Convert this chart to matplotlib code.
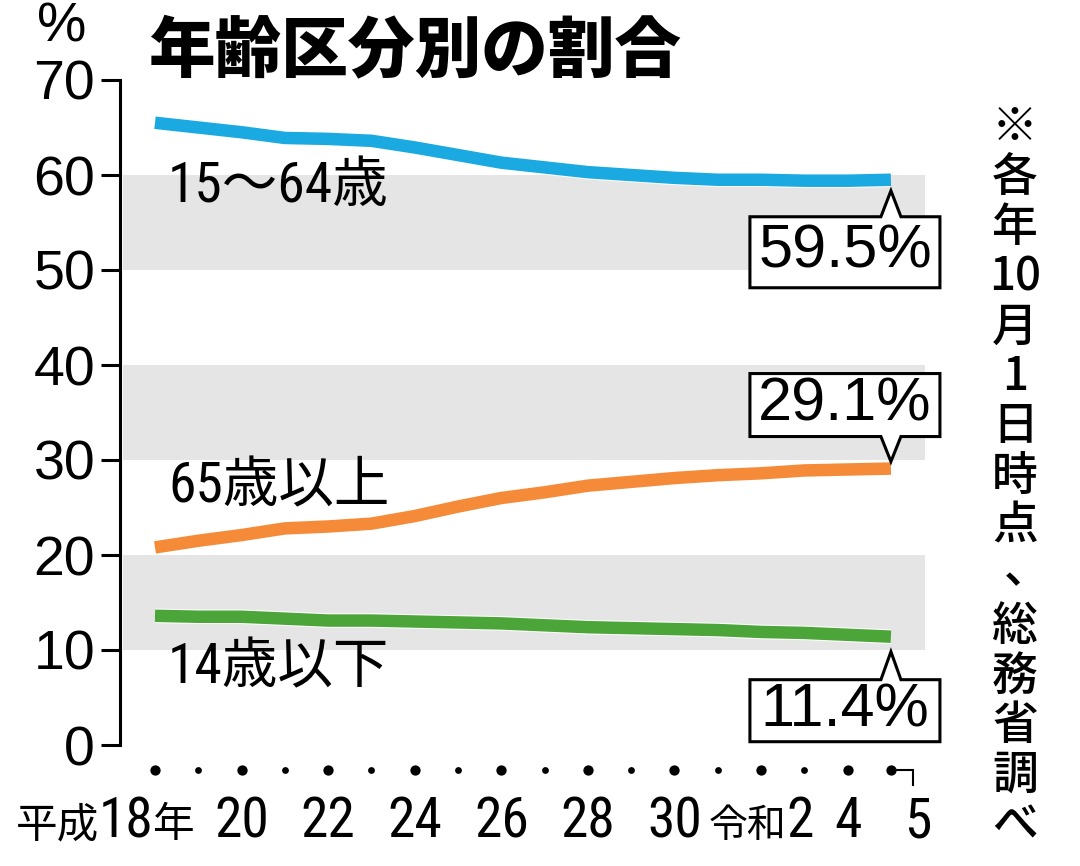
import os
import re
import matplotlib
matplotlib.use('Agg')
import matplotlib.pyplot as plt
import matplotlib.transforms as mtransforms
import matplotlib.patheffects as pe
from matplotlib.patches import Polygon
from matplotlib import font_manager

# ---------------- data ----------------
year_index = list(range(18))  # 平成18年(2006) .. 令和5年(2023)
tick_label_index = [0, 2, 4, 6, 8, 10, 12, 14, 16, 17]
tick_labels = ['平成18年', '20', '22', '24', '26', '28', '30', '令和2', '4', '5']
working_age = [65.5, 65.0, 64.5, 63.9, 63.8, 63.6, 62.9, 62.1, 61.3, 60.8,
               60.3, 60.0, 59.7, 59.5, 59.5, 59.4, 59.4, 59.5]
elderly = [20.8, 21.5, 22.1, 22.8, 23.0, 23.3, 24.1, 25.1, 26.0, 26.6,
           27.3, 27.7, 28.1, 28.4, 28.6, 28.9, 29.0, 29.1]
children = [13.6, 13.5, 13.5, 13.3, 13.1, 13.1, 13.0, 12.9, 12.8, 12.6,
            12.4, 12.3, 12.2, 12.1, 11.9, 11.8, 11.6, 11.4]
series_names = ['15～64歳', '65歳以上', '14歳以下']
y_ticks = [0, 10, 20, 30, 40, 50, 60, 70]
title = '年齢区分別の割合'
note = ['※', '各', '年', '10', '月', '1', '日', '時', '点', '、', '総', '務', '省', '調', 'べ']

# ---------------- fonts ----------------
SANS = 'Liberation Sans'
JP = 'Noto Sans CJK JP'


def find_condensed():
    bad = ('bold', 'italic', 'oblique', 'light', 'thin', 'black', 'medium', 'semibold',
           'extrabold', 'heavy', 'semi', 'extra', 'ultra')
    cands = []
    for f in font_manager.fontManager.ttflist:
        b = os.path.basename(f.fname).lower()
        if not any(w in b for w in ('narrow', 'condensed', 'cond')):
            continue
        stem = b.replace('condensed', '').replace('narrow', '').replace('cond', '')
        if any(w in stem for w in bad):
            continue
        if 'extracondensed' in b or 'semicondensed' in b or 'ultracondensed' in b:
            continue
        if 'mono' in b or 'serif' in b:
            continue
        if 'liberation' in b:
            rank = 0
        elif 'roboto' in b:
            rank = 1
        elif 'notosans' in b:
            rank = 2
        elif 'opensans' in b:
            rank = 3
        elif 'dejavu' in b:
            rank = 4
        else:
            rank = 5
        cands.append((rank, len(b), f.fname))
    if not cands:
        return None
    cands.sort()
    return cands[0][2]


cond_file = find_condensed()
if cond_file is not None:
    font_manager.fontManager.ttflist.append(font_manager.FontEntry(
        fname=cond_file, name='CondDigits', style='normal', variant='normal',
        weight=400, stretch='normal', size='scalable'))
    COND = 'CondDigits'
else:
    COND = SANS

plt.rcParams['font.family'] = [SANS, JP, 'DejaVu Sans']

W, H = 1080, 866
fig = plt.figure(figsize=(W / 100, H / 100), dpi=100)
fig.patch.set_facecolor('white')
ident = mtransforms.IdentityTransform()

X0, DX = 155.0, 43.29         # pixel of first point, spacing
AX_L, AX_R, AX_T, AX_B = 120, 930, 80, 745
ax = fig.add_axes([AX_L / W, (H - AX_B) / H, (AX_R - AX_L) / W, (AX_B - AX_T) / H])
ax.set_xlim((AX_L - X0) / DX, (AX_R - X0) / DX)
ax.set_ylim(0, 70)
ax.set_facecolor('none')

YPX = (AX_B - AX_T) / 70.0    # pixels per unit


def xd(px):
    return (px - X0) / DX


def yd(py):
    return (AX_B - py) / YPX


# gray bands
for lo in (10, 30, 50):
    ax.axhspan(lo, lo + 10, xmin=3 / (AX_R - AX_L), xmax=(925 - AX_L) / (AX_R - AX_L),
               color='#e5e5e5', lw=0, zorder=0)

# spines / ticks
for s in ('top', 'right', 'bottom'):
    ax.spines[s].set_visible(False)
ax.spines['left'].set_linewidth(2.2)
ax.spines['left'].set_bounds(0, 70)
ax.set_yticks(y_ticks)
ax.set_yticklabels([str(t) for t in y_ticks], fontfamily=SANS, fontsize=40)
ax.tick_params(axis='y', length=14, width=2.2, pad=4, labelsize=40)
ax.set_xticks([])

# lines
colors = ['#1aa9e1', '#f58b38', '#4ca538']
for vals, c in zip([working_age, elderly, children], colors):
    ax.plot(year_index, vals, color=c, lw=9, solid_capstyle='butt', solid_joinstyle='round',
            zorder=3, path_effects=[pe.Stroke(linewidth=10.5, foreground='white'), pe.Normal()])

# series labels
label_y = [yd(187), yd(487), yd(668)]
for name, yy in zip(series_names, label_y):
    ax.text(xd(168), yy, name, fontsize=40, family=[COND, JP], ha='left', va='center', zorder=4)

# x dots
dot_y = yd(770)
big = [i for i in year_index if i % 2 == 0 or i == year_index[-1]]
small = [i for i in year_index if i not in big]
ax.scatter(big, [dot_y] * len(big), s=55, color='black', clip_on=False, zorder=4, lw=0)
ax.scatter(small, [dot_y] * len(small), s=24, color='black', clip_on=False, zorder=4, lw=0)
ax.plot([year_index[-1], xd(913), xd(913)], [dot_y, dot_y, yd(785)], color='black', lw=1.5,
        clip_on=False, solid_joinstyle='miter')

# x labels (kanji runs set a little smaller, like the condensed newspaper type)
fig.canvas.draw()
renderer = fig.canvas.get_renderer()
DIGIT_SIZE = 40
KANJI_SIZE = {0: 30, 14: 28}
BASELINE = H - 837
right_edge_px = {0: 195, 14: 814}
center_px = {17: 918}
for i, lab in zip(tick_label_index, tick_labels):
    parts = re.findall(r'[0-9]+|[^0-9]+', lab)
    if i in right_edge_px:
        x = right_edge_px[i]
        for p in reversed(parts):
            is_digit = p[0].isdigit()
            t = fig.text(x, BASELINE, p, transform=ident,
                         fontsize=DIGIT_SIZE if is_digit else KANJI_SIZE[i],
                         family=COND if is_digit else JP, ha='right', va='baseline')
            x -= t.get_window_extent(renderer).width
    else:
        cx = center_px[i] if i in center_px else ax.transData.transform((i, 0))[0]
        fig.text(cx, BASELINE, lab, transform=ident, fontsize=DIGIT_SIZE, family=[COND, JP],
                 ha='center', va='baseline')

# title and unit
fig.text(148 / W, 1 - 52 / H, title, fontsize=48, family=JP, fontweight='black',
         ha='left', va='center')
fig.text(62 / W, 1 - 28 / H, '%', fontsize=40, family=SANS, ha='center', va='center')

# vertical note
for k, tok in enumerate(note):
    cy = 128 + k * 49.8
    cx = 1015
    if tok == '、':
        cx += 12
        cy -= 6
    fig.text(cx / W, 1 - cy / H, tok, fontsize=33, family=JP, fontweight='medium',
             ha='center', va='center')

# callouts
callouts = [
    (working_age, -1, 11, 37, 108),
    (elderly, +1, 7, 32, 95),
    (children, -1, 15, 43, 105),
]
for vals, d, a, n, f in callouts:
    v = vals[-1]
    ex, ey = ax.transData.transform((year_index[-1], v))
    bx0, bx1 = ex - 141, ex + 49
    verts = [(bx0, ey + d * n), (ex - 10, ey + d * n), (ex, ey + d * a), (ex + 10, ey + d * n),
             (bx1, ey + d * n), (bx1, ey + d * f), (bx0, ey + d * f)]
    poly = Polygon(verts, closed=True, transform=ident, fc='white', ec='black', lw=2.2,
                   joinstyle='miter', zorder=5)
    fig.add_artist(poly)
    fig.text((bx0 + bx1) / 2, ey + d * (n + f) / 2, f'{v:.1f}%', transform=ident,
             fontsize=44, family=SANS, ha='center', va='center', zorder=6)

fig.savefig('out.png', dpi=100)
